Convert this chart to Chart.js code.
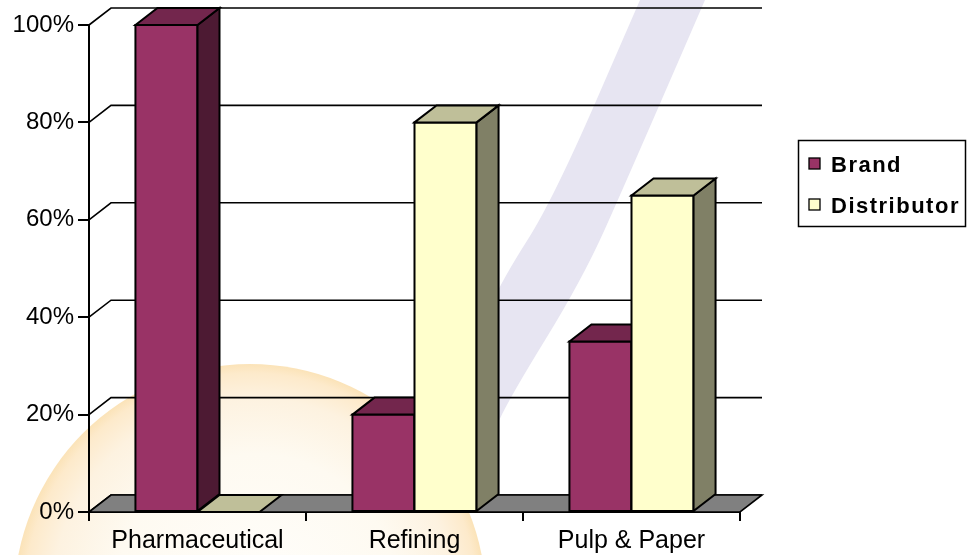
<!DOCTYPE html>
<html><head><meta charset="utf-8">
<script src="https://cdn.jsdelivr.net/npm/chart.js@4/dist/chart.umd.min.js"></script>
<style>html,body{margin:0;padding:0;background:#fff;}#wrap{width:974px;height:555px;position:relative;}</style>
</head><body><div id="wrap"><canvas id="c" width="974" height="555"></canvas></div>
<script>
const categories = ['Pharmaceutical', 'Refining', 'Pulp & Paper'];
const seriesLabels = ['Brand', 'Distributor'];
const brandValues = [100, 20, 35];
const distributorValues = [0, 80, 65];
const yTickValues = [0, 20, 40, 60, 80, 100];

const FRONT = ['#993366', '#ffffcc'];
const TOP = ['#73264d', '#bfbf99'];
const SIDE = ['#4d1a33', '#808066'];
const DX = 22, DY = -17;

function poly(ctx, pts, fill, stroke, lw) {
  ctx.beginPath();
  ctx.moveTo(pts[0][0], pts[0][1]);
  for (let i = 1; i < pts.length; i++) ctx.lineTo(pts[i][0], pts[i][1]);
  ctx.closePath();
  if (fill) { ctx.fillStyle = fill; ctx.fill(); }
  if (stroke) { ctx.strokeStyle = stroke; ctx.lineWidth = lw; ctx.lineJoin = 'miter'; ctx.stroke(); }
}

function smoothPath(ctx, pts, first) {
  if (first) ctx.moveTo(pts[0][0], pts[0][1]); else ctx.lineTo(pts[0][0], pts[0][1]);
  for (let i = 1; i < pts.length - 1; i++) {
    const mx = (pts[i][0] + pts[i + 1][0]) / 2, my = (pts[i][1] + pts[i + 1][1]) / 2;
    ctx.quadraticCurveTo(pts[i][0], pts[i][1], mx, my);
  }
  const last = pts[pts.length - 1];
  ctx.lineTo(last[0], last[1]);
}

const plugin3d = {
  id: 'threeD',
  beforeDraw(chart) {
    const ctx = chart.ctx;
    ctx.save();
    ctx.fillStyle = '#ffffff';
    ctx.fillRect(0, 0, chart.width, chart.height);
    // warm glow watermark
    ctx.save();
    ctx.beginPath();
    ctx.arc(250, 600, 236, 0, Math.PI * 2);
    ctx.clip();
    const g = ctx.createRadialGradient(265, 590, 0, 250, 600, 236);
    g.addColorStop(0, '#fffefb');
    g.addColorStop(0.6, '#fefaf1');
    g.addColorStop(0.85, '#fdf2e0');
    g.addColorStop(0.96, '#fdeacb');
    g.addColorStop(1, '#fbe3b8');
    ctx.fillStyle = g;
    ctx.fillRect(0, 340, 520, 215);
    ctx.restore();
    // lavender swoosh watermark
    ctx.beginPath();
    smoothPath(ctx, [[705, 0], [627, 180], [582, 280], [510, 397], [490, 440]], true);
    smoothPath(ctx, [[480, 440], [480, 330], [502, 280], [553, 200], [640, 0]], false);
    ctx.closePath();
    ctx.fillStyle = '#e7e5f2';
    ctx.fill();
    ctx.restore();
  },
  beforeDatasetsDraw(chart) {
    const ctx = chart.ctx;
    const ys = chart.scales.y;
    const area = chart.chartArea;
    ctx.save();
    yTickValues.forEach(v => {
      const y = ys.getPixelForValue(v);
      ctx.beginPath();
      ctx.moveTo(area.left, y);
      ctx.lineTo(area.left + DX, y + DY);
      ctx.lineTo(area.right + DX, y + DY);
      ctx.strokeStyle = '#000';
      ctx.lineWidth = 1.6;
      ctx.stroke();
    });
    const y0 = ys.getPixelForValue(0);
    poly(ctx, [[area.left, y0], [area.right, y0], [area.right + DX, y0 + DY], [area.left + DX, y0 + DY]], '#808080', '#000', 1.6);
    for (let i = 0; i < categories.length; i++) {
      for (let d = 0; d < chart.data.datasets.length; d++) {
        const el = chart.getDatasetMeta(d).data[i];
        const l = el.x - el.width / 2, r = el.x + el.width / 2;
        const top = el.y, base = el.base;
        if (base - top > 0.5) {
          poly(ctx, [[l, top], [r, top], [r, base], [l, base]], FRONT[d], '#000', 2);
          poly(ctx, [[r, top], [r + DX, top + DY], [r + DX, base + DY], [r, base]], SIDE[d], '#000', 2);
        }
        poly(ctx, [[l, top], [l + DX, top + DY], [r + DX, top + DY], [r, top]], TOP[d], '#000', 2);
      }
    }
    ctx.restore();
    return false;
  },
  afterDraw(chart) {
    const ctx = chart.ctx;
    ctx.save();
    ctx.fillStyle = '#fff';
    ctx.fillRect(798, 140, 167, 86);
    ctx.strokeStyle = '#000';
    ctx.lineWidth = 1.5;
    ctx.strokeRect(798.5, 140.5, 167, 86);
    const rows = [164, 205];
    chart.data.datasets.forEach((ds, d) => {
      const cy = rows[d];
      ctx.fillStyle = FRONT[d];
      ctx.fillRect(809, cy - 6, 11, 11);
      ctx.strokeStyle = '#000';
      ctx.lineWidth = 1.3;
      ctx.strokeRect(809, cy - 6, 11, 11);
      ctx.fillStyle = '#000';
      ctx.font = 'bold 22px "Liberation Sans", Arial, sans-serif';
      try { ctx.letterSpacing = '1.5px'; } catch (e) {}
      ctx.textBaseline = 'alphabetic';
      ctx.textAlign = 'left';
      ctx.fillText(ds.label, 831, cy + 8);
      try { ctx.letterSpacing = '0px'; } catch (e) {}
    });
    ctx.restore();
  }
};

new Chart(document.getElementById('c'), {
  type: 'bar',
  data: {
    labels: categories,
    datasets: [
      { label: seriesLabels[0], data: brandValues, backgroundColor: FRONT[0] },
      { label: seriesLabels[1], data: distributorValues, backgroundColor: FRONT[1] }
    ]
  },
  options: {
    responsive: false,
    animation: false,
    devicePixelRatio: 1,
    layout: { padding: { top: 25, right: 234, left: 0, bottom: 0 } },
    plugins: { legend: { display: false }, tooltip: { enabled: false } },
    datasets: { bar: { categoryPercentage: 0.572, barPercentage: 1 } },
    scales: {
      x: {
        grid: { display: true, drawOnChartArea: false, drawTicks: true, tickLength: 9, color: '#000', lineWidth: 2, offset: true },
        border: { display: true, color: '#000', width: 2 },
        ticks: { color: '#000', font: { family: '"Liberation Sans", Arial, sans-serif', size: 25 }, padding: 5, maxRotation: 0, autoSkip: false },
        afterFit(s) { s.height = 43; s.paddingLeft = 0; s.paddingRight = 0; }
      },
      y: {
        min: 0, max: 100,
        grid: { display: true, drawOnChartArea: false, drawTicks: true, tickLength: 11, color: '#000', lineWidth: 2 },
        border: { display: true, color: '#000', width: 2 },
        ticks: { stepSize: 20, color: '#000', font: { family: '"Liberation Sans", Arial, sans-serif', size: 24 }, padding: 4, callback: v => v + '%' },
        afterFit(s) { s.width = 89; s.paddingTop = 0; s.paddingBottom = 0; }
      }
    }
  },
  plugins: [plugin3d]
});
</script>
</body></html>
